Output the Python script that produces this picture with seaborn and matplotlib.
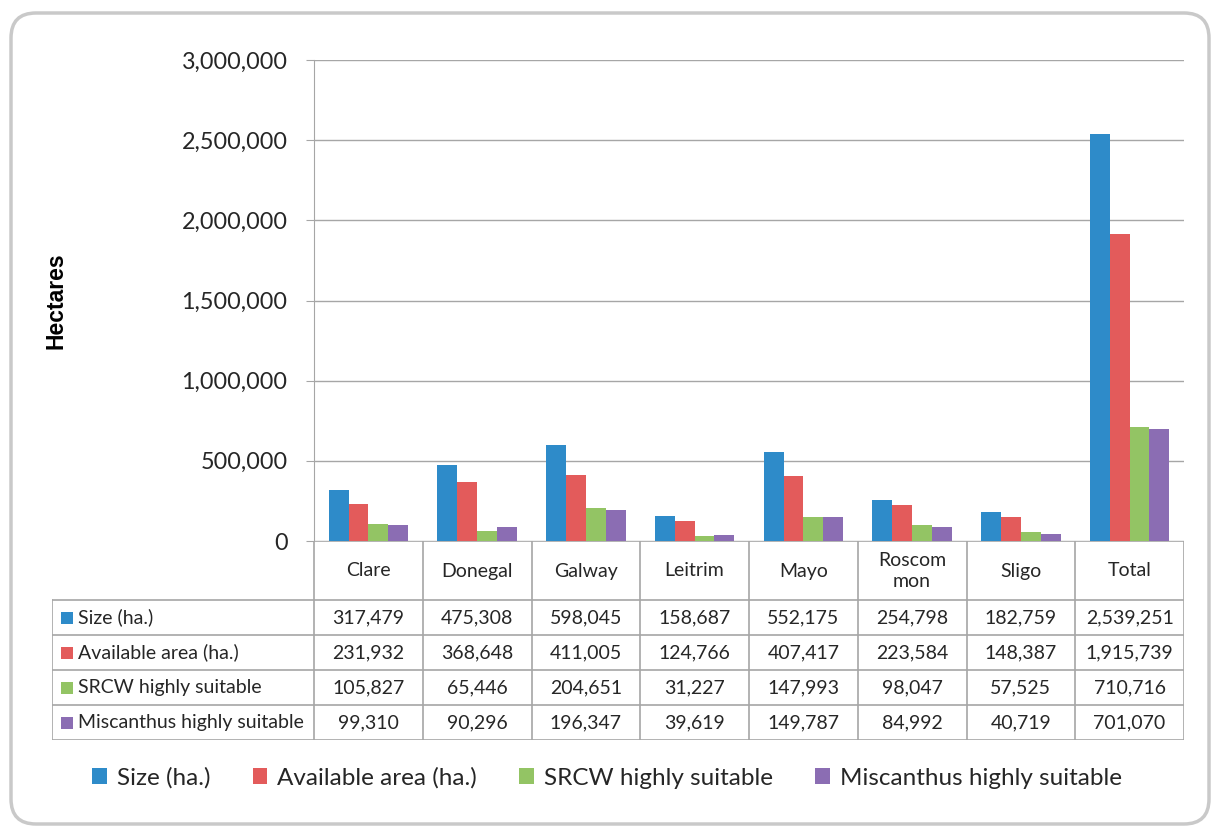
import pandas as pd
import matplotlib.pyplot as plt
import seaborn as sns
from matplotlib.patches import FancyBboxPatch, Patch
from matplotlib.ticker import FuncFormatter

counties = ['Clare', 'Donegal', 'Galway', 'Leitrim', 'Mayo', 'Roscommon', 'Sligo', 'Total']
county_labels = ['Clare', 'Donegal', 'Galway', 'Leitrim', 'Mayo', 'Roscom\nmon', 'Sligo', 'Total']
series_names = ['Size (ha.)', 'Available area (ha.)', 'SRCW highly suitable', 'Miscanthus highly suitable']
size_ha = [317479, 475308, 598045, 158687, 552175, 254798, 182759, 2539251]
available_ha = [231932, 368648, 411005, 124766, 407417, 223584, 148387, 1915739]
srcw_ha = [105827, 65446, 204651, 31227, 147993, 98047, 57525, 710716]
miscanthus_ha = [99310, 90296, 196347, 39619, 149787, 84992, 40719, 701070]
y_ticks = [0, 500000, 1000000, 1500000, 2000000, 2500000, 3000000]

colors = ['#2E8BC9', '#E35B5B', '#93C464', '#8B6DB3']
grid_color = '#A6A6A6'

# Build long-form table for seaborn
series_values = [size_ha, available_ha, srcw_ha, miscanthus_ha]
rows = []
for name, vals in zip(series_names, series_values):
    for county, v in zip(counties, vals):
        rows.append({'County': county, 'Series': name, 'Hectares': v})
df = pd.DataFrame(rows)

plt.rcParams['font.family'] = ['Lato', 'DejaVu Sans']

fig = plt.figure(figsize=(12.12, 8.26), dpi=100)
W, H = 1212, 826

# Rounded outer frame
frame = FancyBboxPatch((0.11, 0.02), 11.98, 8.11, boxstyle='round,pad=0,rounding_size=0.25',
                       transform=fig.dpi_scale_trans, facecolor='none', edgecolor='#C9C9C9',
                       linewidth=2.5, zorder=-1)
fig.patches.append(frame)

# Main plot area
ax = fig.add_axes([314 / W, (H - 541) / H, 870 / W, 481 / H])
ax.set_facecolor('none')
sns.barplot(data=df, x='County', y='Hectares', hue='Series', order=counties, hue_order=series_names,
            palette=colors, saturation=1, width=0.73, errorbar=None, legend=False, ax=ax, zorder=3)
ax.set_xlim(-0.5, len(counties) - 0.5)
ax.set_ylim(0, 3000000)
ax.set_yticks(y_ticks)
ax.yaxis.set_major_formatter(FuncFormatter(lambda v, p: f'{int(v):,}'))
ax.yaxis.grid(True, color=grid_color, linewidth=1, zorder=0)
ax.set_axisbelow(True)
for s in ['top', 'right', 'bottom']:
    ax.spines[s].set_visible(False)
ax.spines['left'].set_color(grid_color)
ax.tick_params(axis='y', length=6, color=grid_color, labelsize=16.8, pad=13, labelcolor='#262626')
ax.set_xticks([])
ax.set_xlabel('')
ax.set_ylabel('')

fig.text(56 / W, 1 - 301 / H, 'Hectares', rotation=90, ha='center', va='center',
         fontsize=16.5, fontweight='bold', family=['Liberation Sans', 'DejaVu Sans'])

# Data table below the plot
tax = fig.add_axes([52 / W, (H - 740) / H, (1184 - 52) / W, 199 / H])
left_x = -0.5 - (314 - 52) / 108.75
tax.set_xlim(left_x, len(counties) - 0.5)
tax.set_ylim(199, 0)
tax.axis('off')
row_edges = [0, 59, 94, 129, 164, 199]
lw = 1.2
for i in range(len(counties) + 1):
    tax.plot([i - 0.5, i - 0.5], [0, 199], color=grid_color, lw=lw)
tax.plot([left_x, left_x], [59, 199], color=grid_color, lw=lw)
tax.plot([-0.5, len(counties) - 0.5], [0, 0], color=grid_color, lw=lw)
for y in row_edges[1:]:
    tax.plot([left_x, len(counties) - 0.5], [y, y], color=grid_color, lw=lw)

for i, lab in enumerate(county_labels):
    tax.text(i, 30, lab, ha='center', va='center', fontsize=14, color='#262626', linespacing=1.35)

for r, (name, vals, c) in enumerate(zip(series_names, series_values, colors)):
    yc = (row_edges[r + 1] + row_edges[r + 2]) / 2
    tax.scatter([left_x + 0.14], [yc], marker='s', s=80, color=c, linewidths=0)
    tax.text(left_x + 0.235, yc, name, ha='left', va='center', fontsize=14, color='#262626')
    for i, v in enumerate(vals):
        tax.text(i, yc, f'{v:,}', ha='center', va='center', fontsize=14, color='#262626')

# Legend
handles = [Patch(facecolor=c, edgecolor='none', label=n) for c, n in zip(colors, series_names)]
fig.legend(handles=handles, loc='center', bbox_to_anchor=(607 / W, 1 - 778 / H), ncol=4,
           frameon=False, fontsize=17.5, handlelength=0.6, handleheight=0.6,
           handletextpad=0.4, columnspacing=1.75, labelcolor='#262626')

fig.savefig('out.png', dpi=100)
